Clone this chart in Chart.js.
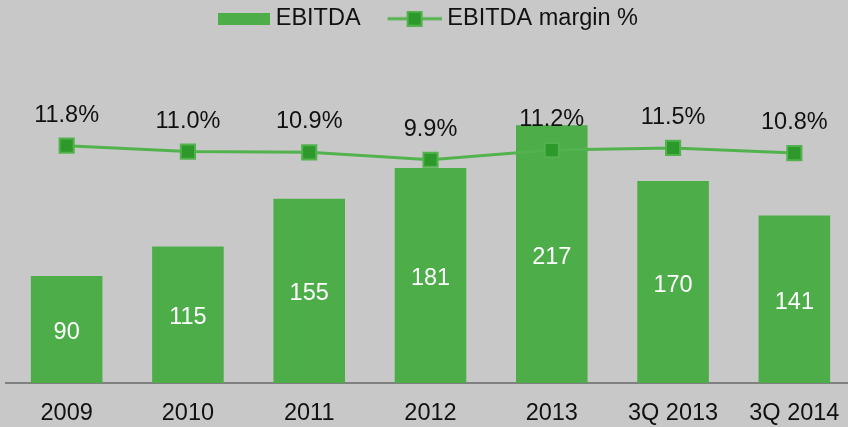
<!DOCTYPE html>
<html>
<head>
<meta charset="utf-8">
<script src="https://cdn.jsdelivr.net/npm/chart.js@4/dist/chart.umd.min.js"></script>
<style>
  html, body { margin: 0; padding: 0; background: #c8c8c8; }
  #wrap { width: 848px; height: 427px; }
</style>
</head>
<body>
<div id="wrap"><canvas id="c" width="848" height="427"></canvas></div>
<script>
const categories = ['2009', '2010', '2011', '2012', '2013', '3Q 2013', '3Q 2014'];
const ebitda = [90, 115, 155, 181, 217, 170, 141];
const margin = [11.8, 11.0, 10.9, 9.9, 11.2, 11.5, 10.8];
const marginLabels = ['11.8%', '11.0%', '10.9%', '9.9%', '11.2%', '11.5%', '10.8%'];

const BAR = '#4cad49';
const LINE = '#52b34e';
const MARK = '#2e992b';
const FONT = '"Liberation Sans", Arial, sans-serif';
const FS = 23.5;
const LEG_W = 48;
const LEG_PAD = 27;
const TOP_SHIFT = -20;
const X_EXTEND = 7;

function barIcon() {
  const c = document.createElement('canvas');
  c.width = LEG_W + 12; c.height = 12;
  const x = c.getContext('2d');
  x.fillStyle = BAR; x.fillRect(c.width - 52, 0, 52, 12);
  return c;
}
function lineIcon() {
  const c = document.createElement('canvas');
  c.width = LEG_W + 12; c.height = 16;
  const x = c.getContext('2d');
  const s = c.width - 54;
  x.strokeStyle = LINE; x.lineWidth = 3;
  x.beginPath(); x.moveTo(s, 8); x.lineTo(s + 54, 8); x.stroke();
  x.fillStyle = MARK; x.fillRect(s + 20, 1, 14, 14);
  x.strokeStyle = LINE; x.lineWidth = 2; x.strokeRect(s + 20, 1, 14, 14);
  return c;
}
const icons = [barIcon(), lineIcon()];

const layoutPlugin = {
  id: 'layoutTweaks',
  afterInit(chart) {
    const lg = chart.legend;
    if (!lg) return;
    const orig = lg.fit.bind(lg);
    lg.fit = function () { orig(); this.height = 86 - TOP_SHIFT; };
  },
  afterLayout(chart) {
    const s = chart.scales.x;
    s.right += X_EXTEND;
    s.width += X_EXTEND;
    s.configure();
  }
};

const labelPlugin = {
  id: 'valueLabels',
  afterDatasetsDraw(chart) {
    const ctx = chart.ctx;
    ctx.save();
    ctx.font = FS + 'px ' + FONT;
    ctx.textAlign = 'center';
    ctx.textBaseline = 'middle';
    const barMeta = chart.getDatasetMeta(1);
    barMeta.data.forEach((el, i) => {
      ctx.fillStyle = '#ffffff';
      const mid = (el.y + el.base) / 2;
      ctx.fillText(String(ebitda[i]), el.x, mid + 3);
    });
    const lineMeta = chart.getDatasetMeta(0);
    lineMeta.data.forEach((el, i) => {
      ctx.fillStyle = '#111111';
      ctx.fillText(marginLabels[i], el.x, el.y - 30.5);
    });
    ctx.restore();
  }
};

new Chart(document.getElementById('c'), {
  data: {
    labels: categories,
    datasets: [
      {
        type: 'line',
        label: 'EBITDA margin %',
        data: margin,
        yAxisID: 'y2',
        borderColor: LINE,
        borderWidth: 3,
        pointStyle: 'rect',
        pointRadius: 10,
        pointBackgroundColor: MARK,
        pointBorderColor: LINE,
        pointBorderWidth: 2,
        tension: 0,
        order: 0
      },
      {
        type: 'bar',
        label: 'EBITDA',
        data: ebitda,
        yAxisID: 'y',
        backgroundColor: BAR,
        borderWidth: 0,
        categoryPercentage: 1,
        barPercentage: 0.59,
        order: 1
      }
    ]
  },
  options: {
    responsive: false,
    animation: false,
    devicePixelRatio: 1,
    layout: { autoPadding: false, padding: { left: 6, right: 0, top: TOP_SHIFT, bottom: 0 } },
    plugins: {
      tooltip: { enabled: false },
      legend: {
        display: true,
        position: 'top',
        labels: {
          usePointStyle: true,
          pointStyleWidth: LEG_W,
          padding: LEG_PAD,
          color: '#111111',
          font: { family: FONT, size: FS },
          generateLabels(chart) {
            return [
              { text: 'EBITDA', pointStyle: icons[0], datasetIndex: 1, fillStyle: BAR, strokeStyle: BAR, lineWidth: 0, hidden: false, fontColor: '#111111' },
              { text: 'EBITDA margin %', pointStyle: icons[1], datasetIndex: 0, fillStyle: MARK, strokeStyle: LINE, lineWidth: 0, hidden: false, fontColor: '#111111' }
            ];
          }
        }
      }
    },
    scales: {
      x: {
        grid: { display: false, drawTicks: false },
        border: { display: true, color: '#808080', width: 2 },
        ticks: { color: '#111111', font: { family: FONT, size: FS }, padding: 16 },
        afterFit(scale) {
          scale.height = 44;
          scale.paddingLeft = 0;
          scale.paddingRight = 0;
        }
      },
      y: {
        display: false,
        min: 0,
        max: 250
      },
      y2: {
        display: false,
        position: 'right',
        min: -20.4,
        max: 19.9
      }
    }
  },
  plugins: [layoutPlugin, labelPlugin]
});
</script>
</body>
</html>
